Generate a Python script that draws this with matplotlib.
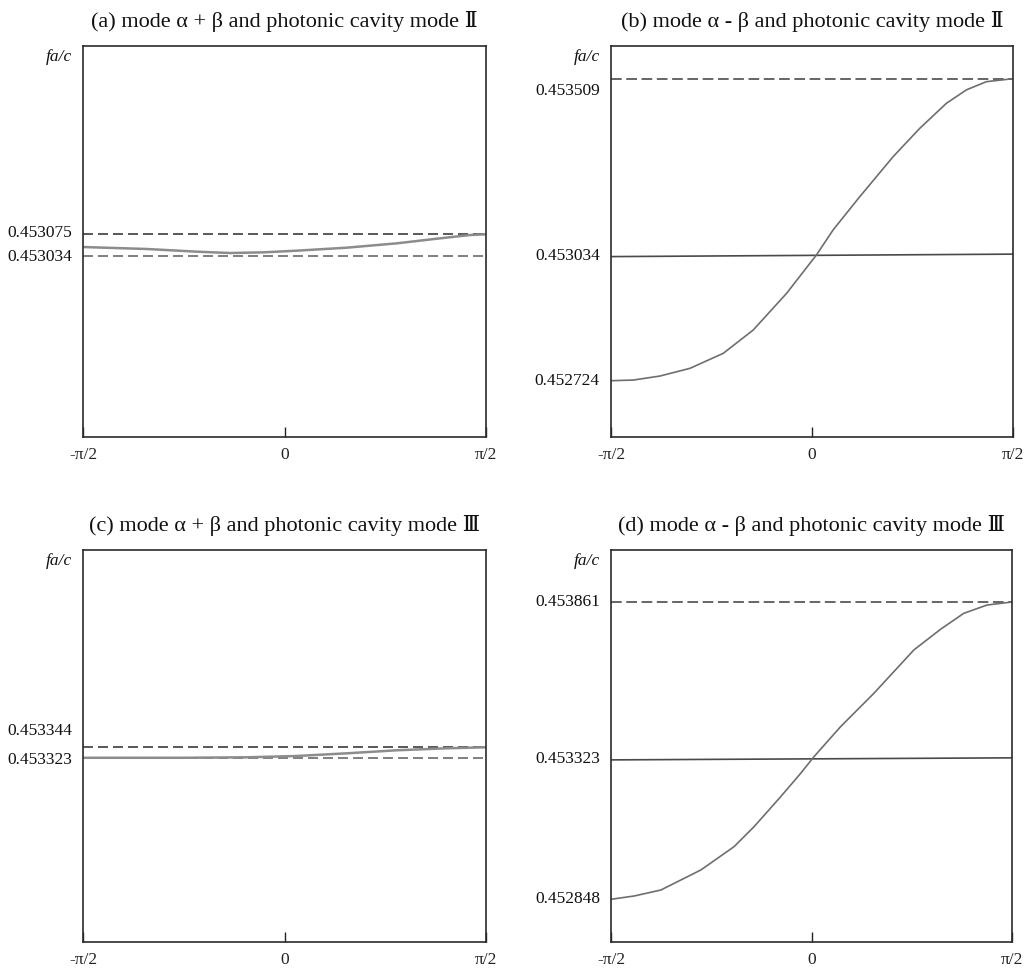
import numpy as np
import matplotlib
matplotlib.use('Agg')
import matplotlib.pyplot as plt
from matplotlib.ticker import NullLocator

plt.rcParams['font.family'] = ['Liberation Serif', 'DejaVu Serif']

HALF_PI = np.pi / 2

# (a) mode a+b with cavity mode II
theta_a = [-HALF_PI, -1.0745, -0.6847, -0.4249, -0.1650, 0.0948, 0.4846, 0.8744, 1.2122, 1.4461, HALF_PI]
freq_a = [0.4530504, 0.4530466, 0.4530414, 0.4530388, 0.4530401, 0.4530433,
          0.4530491, 0.4530575, 0.4530672, 0.4530736, 0.453075]
dash_a = [0.453075, 0.453034]

# (b) mode a-b with cavity mode II
theta_b = [-HALF_PI, -1.3964, -1.1882, -0.9539, -0.6937, -0.4594, -0.1991, 0.0351,
           0.1653, 0.3735, 0.6338, 0.8420, 1.0502, 1.2064, 1.3626, HALF_PI]
freq_b = [0.452724, 0.4527256, 0.4527356, 0.4527547, 0.452792, 0.452850, 0.452941, 0.453037,
          0.453104, 0.453193, 0.453300, 0.453376, 0.453443, 0.453479, 0.453501, 0.453509]
cavity_b = [0.4530325, 0.4530390]
dash_b = 0.453509

# (c) mode a+b with cavity mode III
theta_c = [-HALF_PI, -0.8146, -0.2949, 0.0949, 0.4846, 0.8743, 1.2641, HALF_PI]
freq_c = [0.453324, 0.453324, 0.4533249, 0.4533274, 0.4533325, 0.4533383, 0.4533421, 0.453344]
dash_c = [0.453344, 0.453323]

# (d) mode a-b with cavity mode III
theta_d = [-HALF_PI, -1.3883, -1.1797, -0.8669, -0.6062, -0.4497, -0.2412, -0.0847, 0.0196,
           0.2281, 0.4888, 0.8017, 1.0103, 1.1927, 1.3753, HALF_PI]
freq_d = [0.452848, 0.4528593, 0.4528796, 0.4529475, 0.4530267, 0.4530945, 0.4531963, 0.4532755,
          0.4533321, 0.4534347, 0.4535487, 0.4536969, 0.4537675, 0.4538222, 0.4538507, 0.453861]
cavity_d = [0.4533210, 0.4533280]
dash_d = 0.453861

titles = ['(a) mode α + β and photonic cavity mode Ⅱ',
          '(b) mode α - β and photonic cavity mode Ⅱ',
          '(c) mode α + β and photonic cavity mode Ⅲ',
          '(d) mode α - β and photonic cavity mode Ⅲ']
tick_vals = [[0.453034, 0.453075],
             [0.452724, 0.453034, 0.453509],
             [0.453323, 0.453344],
             [0.452848, 0.453323, 0.453861]]
tick_text = [['0.453034', '0.453075'],
             ['0.452724', '0.453034', '0.453509'],
             ['0.453323', '0.453344'],
             ['0.452848', '0.453323', '0.453861']]
x_labels = ['-π/2', '0', 'π/2']

# layout in pixels of the 1030x968 canvas
W, H = 1030, 968
boxes = [(83, 46, 486, 437), (611, 46, 1013, 437),
         (83, 550, 486, 942), (611, 550, 1012, 942)]
tick_rows = [[255.5, 234.3], [380.7, 256, 78.7], [758.3, 747.3], [899.3, 759.3, 602]]
label_shift = [[-1, 1], [0, 0, -9], [-1, 12], [0, 0, 0]]  # points, vertical nudge of tick text


def pixel_scale(vals, rows, top, bottom):
    # piecewise linear axis so each labelled level sits where the original put it
    vals = np.asarray(vals, float)
    rows = np.asarray(rows, float)
    lo_slope = (vals[1] - vals[0]) / (rows[0] - rows[1])
    hi_slope = (vals[-1] - vals[-2]) / (rows[-2] - rows[-1])
    v_lo = vals[0] - (bottom - rows[0]) * lo_slope
    v_hi = vals[-1] + (rows[-1] - top) * hi_slope
    xp = np.r_[v_lo - 1, v_lo, vals, v_hi, v_hi + 1]
    fp = -np.r_[bottom + 1 / lo_slope, bottom, rows, top, top - 1 / hi_slope]
    fwd = lambda v: np.interp(v, xp, fp)
    inv = lambda p: np.interp(p, fp, xp)
    return fwd, inv, (v_lo, v_hi)


fig = plt.figure(figsize=(W / 100, H / 100), dpi=100)

for i in range(4):
    l, t, r, b = boxes[i]
    ax = fig.add_axes([l / W, 1 - b / H, (r - l) / W, (b - t) / H])
    fwd, inv, ylim = pixel_scale(tick_vals[i], tick_rows[i], t, b)
    ax.set_yscale('function', functions=(fwd, inv))
    ax.set_ylim(*ylim)
    ax.set_xlim(-HALF_PI, HALF_PI)

    if i == 0:
        ax.axhline(dash_a[0], color='#3c3c3c', lw=1.2, ls=(0, (6, 3)))
        ax.axhline(dash_a[1], color='#6a6a6a', lw=1.2, ls=(0, (6, 3)))
        ax.plot(theta_a, freq_a, color='#8c8c8c', lw=1.8)
    elif i == 1:
        ax.axhline(dash_b, color='#3c3c3c', lw=1.1, ls=(0, (7, 3)))
        ax.plot([-HALF_PI, HALF_PI], cavity_b, color='#4a4a4a', lw=1.2)
        ax.plot(theta_b, freq_b, color='#6e6e6e', lw=1.2)
    elif i == 2:
        ax.axhline(dash_c[0], color='#3c3c3c', lw=1.2, ls=(0, (6, 3)))
        ax.axhline(dash_c[1], color='#6a6a6a', lw=1.2, ls=(0, (6, 3)))
        ax.plot(theta_c, freq_c, color='#8c8c8c', lw=1.8)
    else:
        ax.axhline(dash_d, color='#3c3c3c', lw=1.1, ls=(0, (7, 3)))
        ax.plot([-HALF_PI, HALF_PI], cavity_d, color='#4a4a4a', lw=1.2)
        ax.plot(theta_d, freq_d, color='#6e6e6e', lw=1.2)

    ax.yaxis.set_major_locator(NullLocator())
    ax.yaxis.set_minor_locator(NullLocator())
    for v, s, dy in zip(tick_vals[i], tick_text[i], label_shift[i]):
        ax.annotate(s, xy=(0, v), xycoords=('axes fraction', 'data'),
                    xytext=(-8, dy), textcoords='offset points',
                    ha='right', va='center', fontsize=12.5, color='#111111')

    ax.set_xticks([-HALF_PI, 0, HALF_PI])
    ax.set_xticklabels(x_labels)
    ax.tick_params(axis='x', direction='in', length=7, width=1, colors='#222222',
                   labelsize=12.5, pad=7)
    for sp in ax.spines.values():
        sp.set_color('#2a2a2a')
        sp.set_linewidth(1.2)

    ax.text(-0.027, 0.972, 'fa/c', transform=ax.transAxes, ha='right', va='center',
            style='italic', fontsize=12.5, color='#111111')
    ax.set_title(titles[i], fontsize=16, pad=14, color='#111111')

fig.savefig('out.png', dpi=100)
